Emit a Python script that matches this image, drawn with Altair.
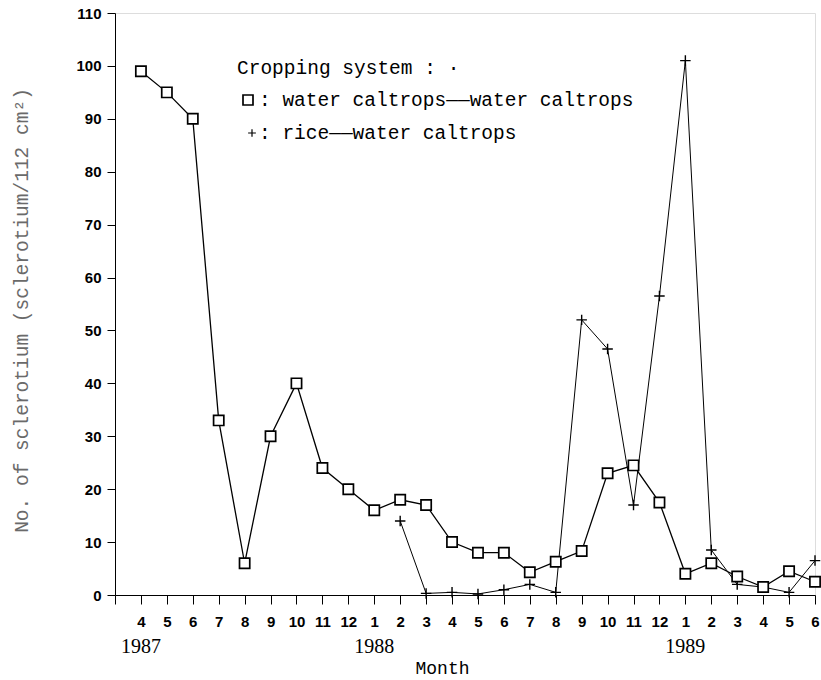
import json
import altair as alt
import pandas as pd

# ---- data ----
months = ["4", "5", "6", "7", "8", "9", "10", "11", "12",
          "1", "2", "3", "4", "5", "6", "7", "8", "9", "10", "11", "12",
          "1", "2", "3", "4", "5", "6"]
years = ["1987", "1988", "1989"]
year_index = [0, 9, 21]

water = [99, 95, 90, 33, 6, 30, 40, 24, 20, 16, 18, 17, 10, 8, 8, 4.3, 6.3,
         8.3, 23, 24.5, 17.5, 4, 6, 3.5, 1.5, 4.5, 2.5]
rice = [None] * 10 + [14, 0.3, 0.5, 0.2, 1, 2, 0.5, 52, 46.5, 17, 56.5, 101,
                      8.5, 2, 1.5, 0.5, 6.5]

legend_title = "Cropping system :  \u00b7"
legend_water = ": water caltrops\u2014\u2014water caltrops"
legend_rice = ": rice\u2014\u2014water caltrops"
y_title = "No. of sclerotium (sclerotium/112 cm\u00b2)"
x_title = "Month"

df = pd.DataFrame({"i": list(range(len(months))), "water": water, "rice": rice})
yr = pd.DataFrame({"i": year_index, "year": years})
one = pd.DataFrame({"a": [0]})

W, H = 700, 582
MONO = "Liberation Mono"
LAB = "Liberation Sans"

xscale = alt.Scale(domain=[-1, len(months) - 1], nice=False, zero=False)
yscale = alt.Scale(domain=[0, 110], nice=False)

label_expr = "datum.value < 0 ? '' : " + json.dumps(months) + "[datum.value]"

xaxis = alt.Axis(values=list(range(-1, len(months))), labelExpr=label_expr,
                 grid=False, tickSize=9, tickColor="black", domainColor="black",
                 labelFont=LAB, labelFontWeight="bold", labelFontSize=15,
                 labelColor="black", labelPadding=10, labelFlush=False,
                 labelOverlap=False, labelSeparation=0,
                 title=x_title, titleFont=MONO, titleFontSize=18,
                 titleFontWeight="normal", titleColor="black",
                 titleX=327, titleY=73, titleBaseline="middle", titleAlign="center")
yaxis = alt.Axis(values=list(range(0, 111, 10)), grid=False, tickSize=8,
                 tickColor="black", domainColor="black",
                 labelFont=LAB, labelFontWeight="bold", labelFontSize=15,
                 labelColor="black", labelPadding=6, labelOverlap=False,
                 title=y_title, titleFont=MONO, titleFontSize=19.5,
                 titleFontWeight="normal", titleColor="#6a6a6a",
                 titleAngle=270, titleX=-94, titleY=297,
                 titleAlign="center", titleBaseline="middle")


def X():
    return alt.X("i:Q", scale=xscale, axis=xaxis)


def Y(field):
    return alt.Y(field + ":Q", scale=yscale, axis=yaxis)


base = alt.Chart(df)
rice_f = base.transform_filter("isValid(datum.rice)")

water_line = base.mark_line(color="black", strokeWidth=1.3).encode(x=X(), y=Y("water"))
rice_line = rice_f.mark_line(color="black", strokeWidth=1.0).encode(x=X(), y=Y("rice"))

CROSS = "M-1,0L1,0M0,-1L0,1"
rice_pts = rice_f.mark_point(shape=CROSS, size=110, filled=False, color="black",
                             strokeWidth=1.4, opacity=1).encode(x=X(), y=Y("rice"))
water_pts = base.mark_point(shape="square", size=105, filled=True, fill="white",
                            stroke="black", strokeWidth=1.7, opacity=1).encode(
    x=X(), y=Y("water"))

year_txt = alt.Chart(yr).mark_text(font="Liberation Serif", fontSize=20,
                                   baseline="middle", align="center",
                                   color="black").encode(
    x=X(), y=alt.value(634), text="year:N")


def txt(s, px, py):
    return alt.Chart(one).mark_text(font=MONO, fontSize=19.5, align="left",
                                    baseline="middle", color="black").encode(
        x=alt.value(px), y=alt.value(py), text=alt.value(s))


leg1 = txt(legend_title, 122, 55)
leg2 = txt(legend_water, 144, 87)
leg3 = txt(legend_rice, 144, 120)
leg_sq = alt.Chart(one).mark_point(shape="square", size=100, filled=False,
                                   color="black", strokeWidth=1.7,
                                   opacity=1).encode(
    x=alt.value(133), y=alt.value(87))
leg_cr = alt.Chart(one).mark_point(shape=CROSS, size=60, filled=False,
                                   color="black", strokeWidth=1.2,
                                   opacity=1).encode(
    x=alt.value(137), y=alt.value(120))

chart = alt.layer(
    rice_line, water_line, rice_pts, water_pts, year_txt,
    leg1, leg2, leg3, leg_sq, leg_cr
).properties(
    width=W, height=H,
    autosize="none",
    padding={"left": 115, "top": 13, "right": 6, "bottom": 85},
).configure_view(stroke="black", strokeWidth=1.2).configure(background="white")

chart.save("out.html", embed_options={"renderer": "svg", "actions": False})
